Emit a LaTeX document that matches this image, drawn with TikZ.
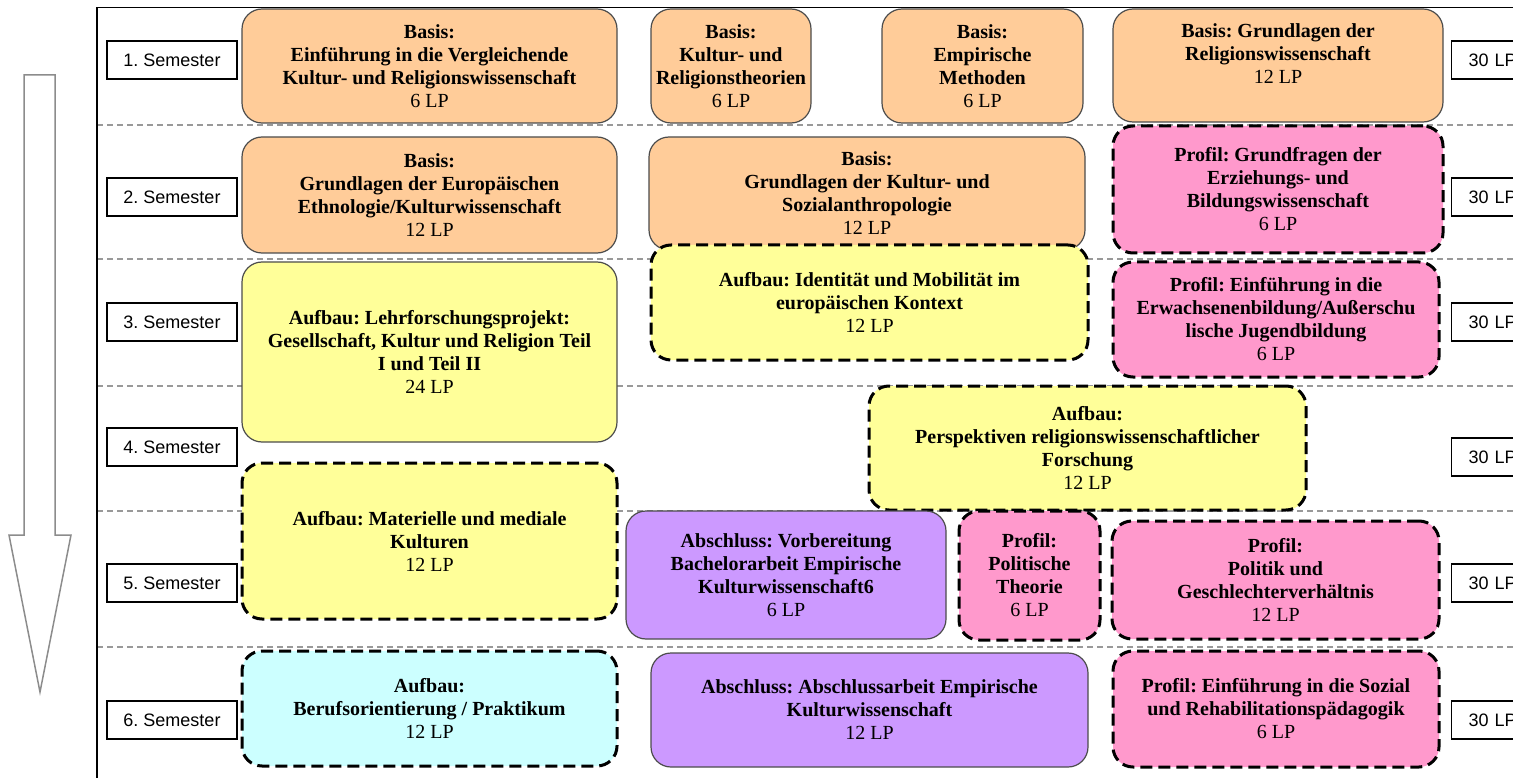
\documentclass[tikz,border=0pt]{standalone}
\usepackage{fontspec}
\setmainfont{Liberation Serif}
\newfontfamily\semfont{Liberation Sans}
\frenchspacing
\definecolor{basis}{HTML}{FFCC99}
\definecolor{aufbau}{HTML}{FFFF99}
\definecolor{profil}{HTML}{FF99CC}
\definecolor{abschl}{HTML}{CC99FF}
\definecolor{praxis}{HTML}{CCFFFF}
\begin{document}
\begin{tikzpicture}[x=1pt,y=-1pt,
  modul/.style={rounded corners=20pt, align=center, inner sep=0pt,
    font=\fontsize{20}{23}\selectfont\bfseries},
  fest/.style={modul, draw=black!70, line width=1.2pt},
  wahl/.style={modul, draw=black, line width=3pt, dash pattern=on 12pt off 6pt},
  semester/.style={draw, line width=1.2pt, minimum width=130pt, minimum height=38pt,
    inner sep=0pt, font=\semfont\fontsize{18}{20}\selectfont},
  summe/.style={semester, anchor=west, text width=96pt, align=left, inner xsep=17pt},
  trenner/.style={draw=black!40, line width=1.2pt, dash pattern=on 6pt off 4pt}]
\useasboundingbox (0,0) rectangle (1513,778);
\clip (0,0) rectangle (1513,778);
% arrow and frame
\draw[draw=black!45, line width=1.5pt] (24,75) -- (55,75) -- (55,535) -- (71,535)
  -- (40,692) -- (9,535) -- (24,535) -- cycle;
\foreach \y in {125,259,386,511,647}
  \draw[trenner] (97,\y) -- (1513,\y);
\draw[line width=1.4pt] (97,778) -- (97,7.5) -- (1513,7.5);
% semesters
\foreach \n/\y in {1/60,2/197,3/322,4/447,5/583,6/720}
  \node[semester] (sem\n) at (172,\y) {\n. Semester};
\foreach \n/\y in {1/60,2/197,3/322,4/457,5/583,6/720}
  \node[summe] (lp\n) at (1451,\y) {30 LP};
% 1. semester
\node[fest, fill=basis, minimum width=375pt, minimum height=114pt] (einfuehrung) at (429.5,66)
  {Basis:\\Einführung in die Vergleichende\\Kultur- und Religionswissenschaft\\{\mdseries 6 LP}};
\node[fest, fill=basis, minimum width=160pt, minimum height=114pt] (theorien) at (731,66)
  {Basis:\\Kultur- und\\Religionstheorien\\{\mdseries 6 LP}};
\node[fest, fill=basis, minimum width=201pt, minimum height=114pt] (methoden) at (982.5,66)
  {Basis:\\Empirische\\Methoden\\{\mdseries 6 LP}};
\node[fest, fill=basis, minimum width=330pt, minimum height=113pt] (relgrund) at (1278,65.5)
  {Basis: Grundlagen der\\Religionswissenschaft\\{\mdseries 12 LP}\\~};
% 2. semester
\node[fest, fill=basis, minimum width=375pt, minimum height=116pt] (ethno) at (429.5,195)
  {Basis:\\Grundlagen der Europäischen\\Ethnologie/Kulturwissenschaft\\{\mdseries 12 LP}};
\node[fest, fill=basis, minimum width=436pt, minimum height=113pt] (sozanthro) at (867,193.5)
  {Basis:\\Grundlagen der Kultur- und\\Sozialanthropologie\\{\mdseries 12 LP}};
\node[wahl, fill=profil, minimum width=330pt, minimum height=127pt] (erzbild) at (1278,189.5)
  {Profil: Grundfragen der\\Erziehungs- und\\Bildungswissenschaft\\{\mdseries 6 LP}};
% 3. und 4. semester
\node[fest, fill=aufbau, minimum width=375pt, minimum height=180pt] (lehrforsch) at (429.5,352)
  {Aufbau: Lehrforschungsprojekt:\\Gesellschaft, Kultur und Religion Teil\\I und Teil II\\{\mdseries 24 LP}};
\node[wahl, fill=aufbau, minimum width=437pt, minimum height=115pt] (identitaet) at (869.5,302.5)
  {Aufbau: Identität und Mobilität im\\europäischen Kontext\\{\mdseries 12 LP}};
\node[wahl, fill=profil, minimum width=326pt, minimum height=115pt] (erwachsen) at (1276,319.5)
  {Profil: Einführung in die\\Erwachsenenbildung/Außerschu\\lische Jugendbildung\\{\mdseries 6 LP}};
\node[wahl, fill=aufbau, minimum width=437pt, minimum height=124pt] (perspektiven) at (1087.5,448)
  {Aufbau:\\Perspektiven religionswissenschaftlicher\\Forschung\\{\mdseries 12 LP}};
\node[wahl, fill=aufbau, minimum width=375pt, minimum height=156pt] (materiell) at (429.5,541)
  {Aufbau: Materielle und mediale\\Kulturen\\{\mdseries 12 LP}};
% 5. semester
\node[fest, fill=abschl, minimum width=320pt, minimum height=128pt] (vorbereitung) at (786,575)
  {Abschluss: Vorbereitung\\Bachelorarbeit Empirische\\Kulturwissenschaft6\\{\mdseries 6 LP}};
\node[wahl, fill=profil, minimum width=141pt, minimum height=129pt] (poltheorie) at (1029.5,575.5)
  {Profil:\\Politische\\Theorie\\{\mdseries 6 LP}};
\node[wahl, fill=profil, minimum width=327pt, minimum height=118pt] (geschlecht) at (1275.5,580)
  {Profil:\\Politik und\\Geschlechterverhältnis\\{\mdseries 12 LP}};
% 6. semester
\node[wahl, fill=praxis, minimum width=375pt, minimum height=115pt] (beruf) at (429.5,708.5)
  {Aufbau:\\Berufsorientierung / Praktikum\\{\mdseries 12 LP}};
\node[fest, fill=abschl, minimum width=437pt, minimum height=114pt] (abschluss) at (869.5,710)
  {Abschluss: Abschlussarbeit Empirische\\Kulturwissenschaft\\{\mdseries 12 LP}};
\node[wahl, fill=profil, minimum width=326pt, minimum height=116pt] (sozpaed) at (1276,709)
  {Profil: Einführung in die Sozial\\und Rehabilitationspädagogik\\{\mdseries 6 LP}};
\end{tikzpicture}
\end{document}
